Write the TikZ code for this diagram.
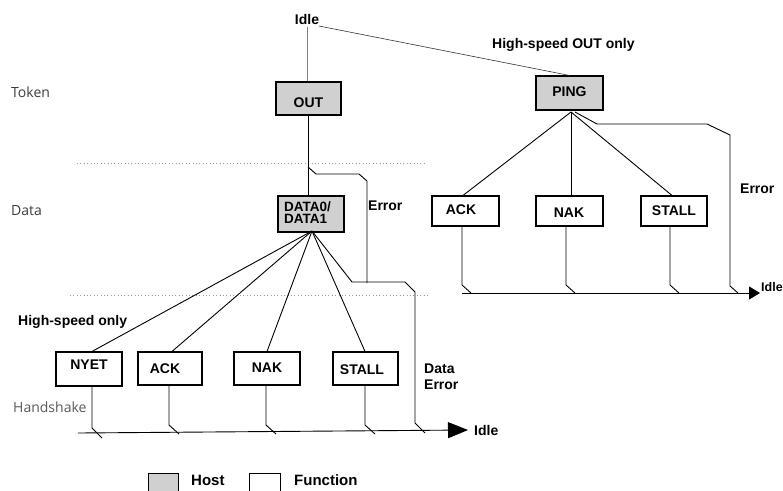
\documentclass[tikz,border=0pt]{standalone}
\usepackage{fontspec}
\setmainfont{Liberation Sans}
\newfontfamily\sidefont{Open Sans}
\usetikzlibrary{arrows.meta}

\definecolor{hostgray}{RGB}{208,208,208}
\definecolor{sidegray}{RGB}{60,60,60}

\tikzset{
  box/.style={draw, line width=1.1pt, inner sep=0pt, minimum width=#1},
  box/.default=66pt,
  hostbox/.style={box=#1, fill=hostgray},
  hostbox/.default=66pt,
  funcbox/.style={box=#1, fill=white},
  funcbox/.default=66pt,
  tag/.style={font=\bfseries\fontsize{14}{14}\selectfont, inner sep=0pt},
  side/.style={font=\sidefont\fontsize{14}{14}\selectfont, text=sidegray, inner sep=0pt, anchor=west},
  wire/.style={line width=0.9pt},
  sep/.style={gray!80, line width=0.8pt, dash pattern=on 1pt off 2.4pt},
}

\begin{document}
\begin{tikzpicture}[x=1pt, y=-1pt]
\useasboundingbox (0,0) rectangle (783,490);
\begin{scope}
\clip (0,0) rectangle (783,490);

% phase labels
\node[side] (ltoken) at (11,92) {Token};
\node[side] (ldata)  at (11,211) {Data};
\node[side, text=black!65] (lhand) at (13,407) {Handshake};

% phase separators
\draw[sep] (77,163) -- (425,163);
\draw[sep] (70,295) -- (430,295);

% token stage
\node[tag] (idleT) at (307,19) {Idle};
\node[hostbox=65pt, minimum height=33pt] (out) at (308.5,98.5) {};
\node[tag] (outT) at (308.5,103) {OUT};
\node[hostbox=67pt, minimum height=34pt] (ping) at (569.5,93) {};
\node[tag] (pingT) at (569.5,92) {PING};
\node[tag, anchor=west] (hsout) at (492,45) {High-speed OUT only};

\draw[gray, line width=1pt] (idleT.south) ++(0,3) coordinate (idleS) -- (idleS |- out.north);
\draw[black!80, line width=0.6pt] (319,26) coordinate (idleE) -- (ping.north);

% data stage
\node[hostbox=66pt, minimum height=36pt] (data) at (311,214) {};
\node[tag, align=left, anchor=north west, font=\bfseries\fontsize{13.5}{12.5}\selectfont] (dataT) at (284,201.5) {DATA0/\\DATA1};
\node[tag, anchor=west] (errL) at (368,206) {Error};

\draw[wire] (out.south -| 308,0) -- (data.north -| 308,0);
\draw[wire] (308,167) coordinate (brk) -- (316,174) -- (359,174) -- (367,181) -- (367,283);

% handshake boxes (function side)
\node[funcbox=66pt, minimum height=34pt] (nyet) at (89,369) {};
\node[tag] (nyetT) at (89,365) {NYET};
\node[funcbox=64pt, minimum height=33pt] (ack) at (170,368.5) {};
\node[tag] (ackT) at (165,369) {ACK};
\node[funcbox=66pt, minimum height=33pt] (nak) at (267,368.5) {};
\node[tag] (nakT) at (267,368) {NAK};
\node[funcbox=65pt, minimum height=33pt] (stall) at (365.5,368.5) {};
\node[tag] (stallT) at (362,370) {STALL};

\node[tag, anchor=west] (hsonly) at (18,322) {High-speed only};
\node[tag, anchor=west, align=left, font=\bfseries\fontsize{14}{16}\selectfont] (derr) at (424,377) {Data\\Error};

% fan out of DATA0/DATA1
\coordinate (fanL) at (312,231);
\draw[wire] (fanL) -- (nyet.north -| 92,0);
\draw[wire] (fanL) -- (ack.north -| 172,0);
\draw[wire] (fanL) -- (nak.north -| 267,0);
\draw[wire] (fanL) -- (stall.north -| 365,0);
\draw[wire] (fanL) -- (352,282) -- (405,282) -- (415,292) -- (415,423) -- (425,433);

% return to idle (left)
\node[tag, anchor=west] (idleL) at (474,430) {Idle};
\coordinate (barL) at (78,433);
\draw[wire, -{Triangle[length=20pt,width=16pt]}] (barL) -- (idleL.west -| 468,0);
\draw[wire] (nyet.south -| 92,0) -- (92,428) -- (102,438);
\draw[wire] (ack.south -| 169,0) -- (169,425) -- (179,434);
\draw[wire] (nak.south -| 266,0) -- (266,425) -- (276,434);
\draw[wire] (stall.south -| 365,0) -- (365,425) -- (375,434);

% PING responses
\node[funcbox=67pt, minimum height=30pt] (rack) at (465.5,211) {};
\node[tag] (rackT) at (461,210) {ACK};
\node[funcbox=67pt, minimum height=30pt] (rnak) at (569.5,211) {};
\node[tag] (rnakT) at (569,213) {NAK};
\node[funcbox=66pt, minimum height=30pt] (rstall) at (674,211) {};
\node[tag] (rstallT) at (674,211) {STALL};
\node[tag, anchor=west] (errR) at (740,189) {Error};

\coordinate (fanR) at (571,112);
\draw[wire] (fanR) -- (rack.north -| 463,0);
\draw[wire] (fanR) -- (rnak.north -| 571,0);
\draw[wire] (fanR) -- (rstall.north -| 672,0);
\draw[wire] (575,112) -- (597,124) -- (707,124) -- (730,135) -- (730,286) -- (738,293);

% return to idle (right)
\node[tag, anchor=west, font=\bfseries\fontsize{12.5}{13}\selectfont] (idleR) at (761,287) {Idle};
\coordinate (barR) at (462,293);
\draw[wire, -{Triangle[length=11pt,width=13pt]}] (barR) -- (760,293);
\draw[wire] (rack.south -| 462,0) -- (462,285) -- (471,293);
\draw[wire] (rnak.south -| 566,0) -- (566,285) -- (575,293);
\draw[wire] (rstall.south -| 670,0) -- (670,285) -- (679,293);

% legend
\node[hostbox=30pt, minimum height=24pt, anchor=north west] (keyhost) at (148,473) {};
\node[tag, anchor=west, font=\bfseries\fontsize{15}{15}\selectfont] (keyhostT) at (191,480) {Host};
\node[funcbox=31pt, minimum height=24pt, anchor=north west] (keyfunc) at (249,473) {};
\node[tag, anchor=west, font=\bfseries\fontsize{15}{15}\selectfont] (keyfuncT) at (294,480) {Function};
\end{scope}
\end{tikzpicture}
\end{document}
